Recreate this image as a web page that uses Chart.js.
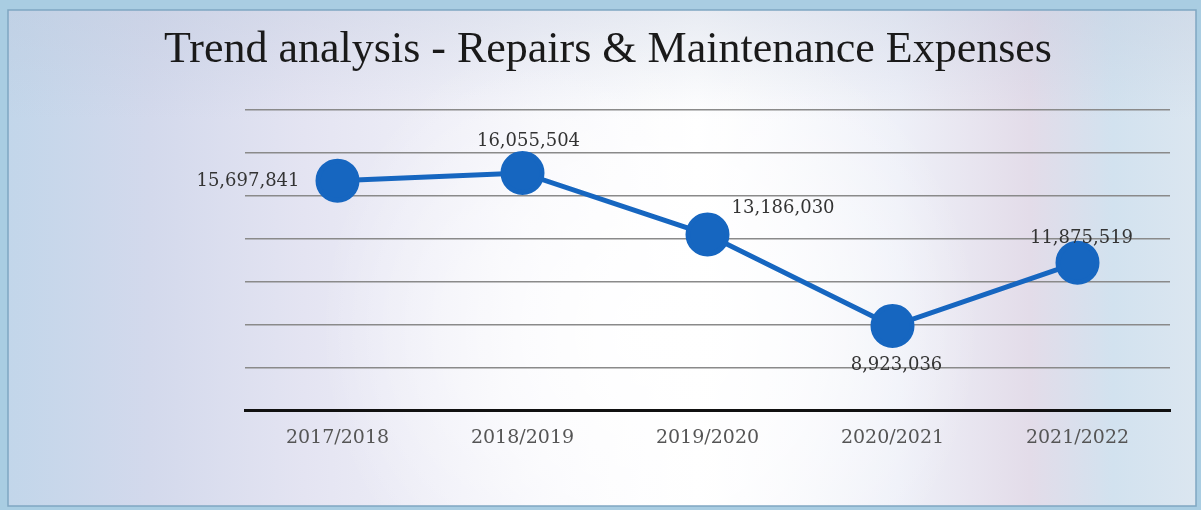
<!DOCTYPE html>
<html>
<head>
<meta charset="utf-8">
<script src="https://cdn.jsdelivr.net/npm/chart.js@4/dist/chart.umd.min.js"></script>
<style>
html,body{margin:0;padding:0;background:#a9cbe0;}
#wrap{width:1201px;height:510px;position:relative;}
canvas{display:block;}
</style>
</head>
<body>
<div id="wrap"><canvas id="c" width="1201" height="510"></canvas></div>
<script>
const categories = ['2017/2018', '2018/2019', '2019/2020', '2020/2021', '2021/2022'];
const expenses = [15697841, 16055504, 13186030, 8923036, 11875519];
const chartTitle = 'Trend analysis - Repairs & Maintenance Expenses';

const bgPlugin = {
  id: 'bg',
  beforeDraw(chart) {
    const ctx = chart.ctx, W = chart.width, H = chart.height;
    ctx.save();
    ctx.fillStyle = '#a9cde2';
    ctx.fillRect(0, 0, W, H);
    const g = ctx.createLinearGradient(8, 0, 1196, 0);
    g.addColorStop(0.00, '#c2d6ea');
    g.addColorStop(0.12, '#d3d9ec');
    g.addColorStop(0.25, '#e4e4f2');
    g.addColorStop(0.45, '#f6f6fb');
    g.addColorStop(0.58, '#ffffff');
    g.addColorStop(0.75, '#eef0f8');
    g.addColorStop(0.86, '#e3dce9');
    g.addColorStop(0.93, '#d2e2ef');
    g.addColorStop(1.00, '#dbe6f0');
    ctx.fillStyle = g;
    ctx.fillRect(8, 10, 1188, 496);
    const r = ctx.createRadialGradient(650, 330, 10, 650, 330, 330);
    r.addColorStop(0, 'rgba(255,255,255,0.95)');
    r.addColorStop(0.5, 'rgba(255,255,255,0.55)');
    r.addColorStop(1, 'rgba(255,255,255,0)');
    ctx.fillStyle = r;
    ctx.fillRect(8, 10, 1188, 496);
    const t = ctx.createLinearGradient(0, 10, 0, 120);
    t.addColorStop(0, 'rgba(190,200,220,0.35)');
    t.addColorStop(1, 'rgba(190,200,220,0)');
    ctx.fillStyle = t;
    ctx.fillRect(8, 10, 1188, 110);
    ctx.strokeStyle = '#7fa6c2';
    ctx.lineWidth = 1.5;
    ctx.strokeRect(8, 10, 1188, 496);
    ctx.restore();
  }
};

const labelPlugin = {
  id: 'valueLabels',
  afterDatasetsDraw(chart) {
    const ctx = chart.ctx;
    const meta = chart.getDatasetMeta(0);
    const place = [
      {dx: -38, dy: 1, align: 'right'},
      {dx: 6, dy: -32, align: 'center'},
      {dx: 24, dy: -26, align: 'left'},
      {dx: 4, dy: 39, align: 'center'},
      {dx: 4, dy: -24, align: 'center'}
    ];
    ctx.save();
    ctx.font = '18px "DejaVu Serif"';
    ctx.fillStyle = '#333333';
    ctx.textBaseline = 'middle';
    meta.data.forEach((pt, i) => {
      const p = place[i];
      ctx.textAlign = p.align;
      ctx.fillText(expenses[i].toLocaleString('en-US'), pt.x + p.dx, pt.y + p.dy);
    });
    ctx.restore();
  }
};

new Chart(document.getElementById('c'), {
  type: 'line',
  data: {
    labels: categories,
    datasets: [{
      data: expenses,
      borderColor: '#1666c0',
      backgroundColor: '#1666c0',
      borderWidth: 5,
      pointRadius: 19.5,
      pointHoverRadius: 19.5,
      pointBackgroundColor: '#1666c0',
      pointBorderColor: '#1666c0',
      tension: 0
    }]
  },
  options: {
    responsive: false,
    animation: false,
    events: [],
    layout: {padding: {left: 46, right: 31, top: 0, bottom: 45}},
    plugins: {
      legend: {display: false},
      tooltip: {enabled: false},
      title: {
        display: true,
        text: chartTitle,
        color: '#1a1a1a',
        font: {family: '"Liberation Serif"', size: 44, weight: 'normal', lineHeight: 1.2},
        padding: {top: 24, bottom: 33}
      }
    },
    scales: {
      x: {
        offset: true,
        grid: {display: false, drawTicks: false},
        border: {display: true, color: '#111111', width: 3},
        ticks: {color: '#555555', padding: 16, font: {family: '"DejaVu Serif"', size: 19}}
      },
      y: {
        min: 5000000,
        max: 19000000,
        afterFit(scale) { scale.width = 199; },
        ticks: {display: false, stepSize: 2000000},
        grid: {color: '#8a8a8a', lineWidth: 1.5, drawTicks: false, tickLength: 0},
        border: {display: false}
      }
    }
  },
  plugins: [bgPlugin, labelPlugin]
});
</script>
</body>
</html>
